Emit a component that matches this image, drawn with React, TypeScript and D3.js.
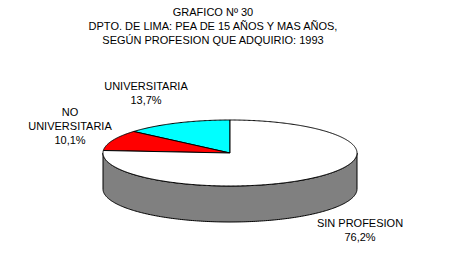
import React from "react";
import * as d3 from "d3";

const categories = ["UNIVERSITARIA", "NO UNIVERSITARIA", "SIN PROFESION"];
const values = [13.7, 10.1, 76.2];
const valueLabels = ["13,7%", "10,1%", "76,2%"];
const colors = ["#00FFFF", "#FF0000", "#FFFFFF"];
const titleLines = [
  "GRAFICO Nº 30",
  "DPTO. DE LIMA: PEA DE 15 AÑOS Y MAS AÑOS,",
  "SEGÚN PROFESION QUE ADQUIRIO: 1993",
];

const W = 468, H = 268;
const cx = 230, cy = 153, rx = 127, ry = 33, depth = 36;

function pt(a: number, dy = 0): [number, number] {
  return [cx - rx * Math.sin(a), cy - ry * Math.cos(a) + dy];
}

export default function App() {
  const pie = d3.pie<number>().sort(null).value((d) => d);
  const arcs = pie(values);
  const line = d3.line();

  const slicePath = (a0: number, a1: number) => {
    const n = Math.max(2, Math.ceil(Math.abs(a1 - a0) / 0.01));
    const pts: [number, number][] = [[cx, cy]];
    for (let i = 0; i <= n; i++) pts.push(pt(a0 + ((a1 - a0) * i) / n));
    return line(pts) + "Z";
  };

  // side: visible front half, pie angles from PI/2 (left) to 3PI/2 (right)
  const sidePts: [number, number][] = [];
  const N = 200;
  for (let i = 0; i <= N; i++) sidePts.push(pt(Math.PI / 2 + (Math.PI * i) / N));
  for (let i = N; i >= 0; i--) sidePts.push(pt(Math.PI / 2 + (Math.PI * i) / N, depth));
  const sidePath = line(sidePts) + "Z";

  const font = "'Liberation Sans', Arial, sans-serif";
  const labelPos = [
    { x: 146, y: [90, 104] },
    { x: 70, y: [116, 130, 144] },
    { x: 360, y: [227, 241] },
  ];
  const labelLines = [
    [categories[0], valueLabels[0]],
    ["NO", "UNIVERSITARIA", valueLabels[1]],
    [categories[2], valueLabels[2]],
  ];

  return (
    <svg width={W} height={H} style={{ position: "absolute", left: 0, top: 0, background: "#fff" }}>
      <rect width={W} height={H} fill="#fff" />
      {titleLines.map((t, i) => (
        <text key={i} x={213} y={16 + i * 14} textAnchor="middle" fontFamily={font} fontSize={11} fill="#000">
          {t}
        </text>
      ))}
      <path d={sidePath} fill="#808080" stroke="#000" strokeWidth={1} />
      {arcs.map((a, i) => (
        <path key={i} d={slicePath(a.startAngle, a.endAngle)} fill={colors[i]} stroke="#000" strokeWidth={1} />
      ))}
      {labelLines.map((ls, i) =>
        ls.map((t, j) => (
          <text key={i + "-" + j} x={labelPos[i].x} y={labelPos[i].y[j]} textAnchor="middle" fontFamily={font} fontSize={11} fill="#000">
            {t}
          </text>
        ))
      )}
    </svg>
  );
}
